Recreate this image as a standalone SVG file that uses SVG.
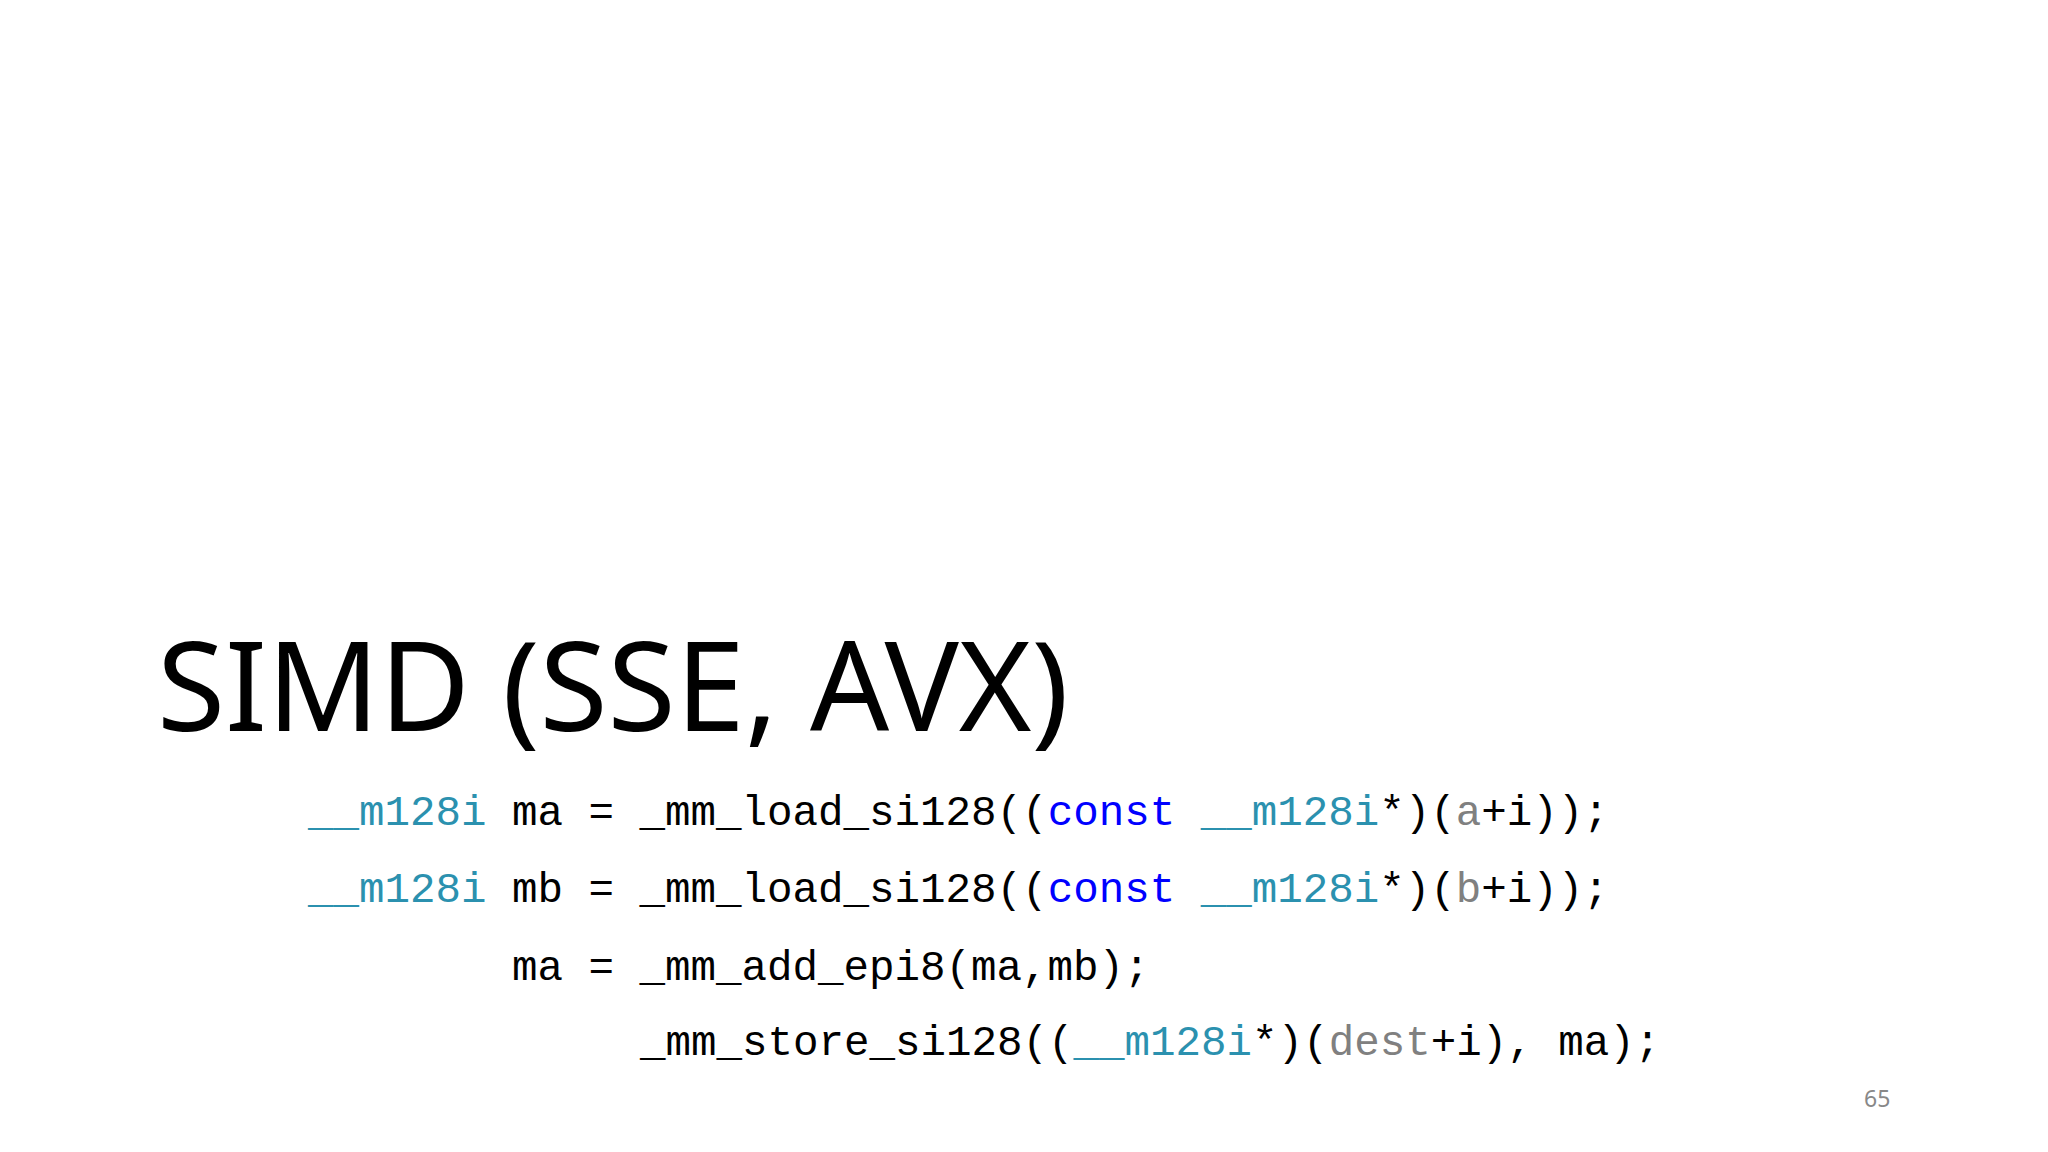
<svg xmlns="http://www.w3.org/2000/svg" width="2048" height="1152" viewBox="0 0 2048 1152">
<style>
.code{font-family:"Liberation Mono",monospace;font-size:42.5px;fill:#000}
.t{fill:#2B91AF}.k{fill:#0000FF}.g{fill:#808080}
</style>
<rect width="2048" height="1152" fill="#fff"/>
<g id="title"><text x="157" y="731" font-family="Noto Sans, sans-serif" font-size="124" fill="#000">SIMD (SSE, AVX)</text></g>
<g id="code" class="code">
<text x="308" y="825"><tspan class="t">__m128i</tspan> ma = _mm_load_si128((<tspan class="k">const</tspan> <tspan class="t">__m128i</tspan>*)(<tspan class="g">a</tspan>+i));</text>
<text x="308" y="902"><tspan class="t">__m128i</tspan> mb = _mm_load_si128((<tspan class="k">const</tspan> <tspan class="t">__m128i</tspan>*)(<tspan class="g">b</tspan>+i));</text>
<text x="512" y="980">ma = _mm_add_epi8(ma,mb);</text>
<text x="640" y="1055">_mm_store_si128((<tspan class="t">__m128i</tspan>*)(<tspan class="g">dest</tspan>+i), ma);</text>
</g>
<g id="page"><text x="1864" y="1107" font-family="Noto Sans, sans-serif" font-size="23" fill="#888">65</text></g>
</svg>
